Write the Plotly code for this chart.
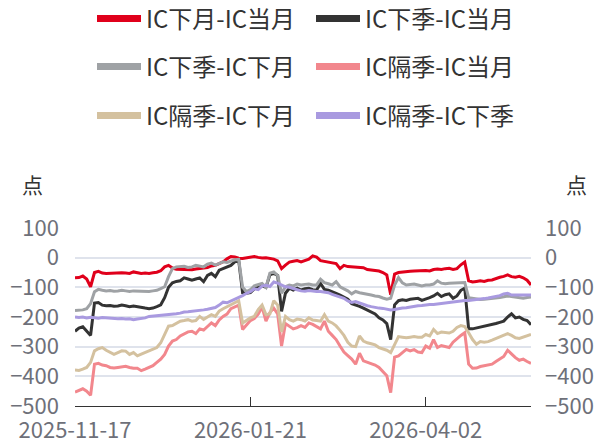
import plotly.graph_objects as go

# trading-day index labels
tick_idx = [0, 45, 90, 117]
tick_text = ["2025-11-17", "2026-01-21", "2026-04-02", ""]

names = ["IC下月-IC当月", "IC下季-IC当月", "IC下季-IC下月",
         "IC隔季-IC当月", "IC隔季-IC下月", "IC隔季-IC下季"]
colors = ["#e0001b", "#333333", "#9fa2a5", "#f2878d", "#d4c19f", "#a99ae0"]

s_xy_dy = [  # IC下月-IC当月
    -68, -67, -62, -72, -98, -50, -46, -52, -53, -52, -53, -52, -51, -52, -53, -48, -51, -53, -52, -53,
    -51, -49, -44, -31, -26, -35, -39, -40, -40, -42, -41, -38, -37, -36, -33, -28, -26, -20, -14, -4,
    4, 2, -2, -3, -1, 2, 4, 1, -1, 0, -3, -5, -11, -37, -25, -15, -12, -10, -14, -10,
    -5, 6, 2, -10, -13, -15, -17, -20, -37, -26, -30, -31, -30, -33, -34, -40, -42, -43, -45, -50,
    -58, -125, -55, -50, -48, -47, -46, -45, -44, -42, -43, -45, -40, -38, -40, -37, -36, -40, -37, -24,
    -15, -78, -82, -80, -78, -80, -76, -75, -70, -66, -63, -58, -64, -66, -63, -68, -76, -92]

s_xj_dy = [  # IC下季-IC当月
    -248, -237, -233, -248, -262, -153, -151, -160, -162, -161, -164, -163, -160, -162, -165, -163, -166, -168, -170, -172,
    -170, -165, -159, -135, -100, -85, -80, -78, -68, -72, -76, -72, -68, -81, -60, -53, -64, -42, -37, -30,
    -26, -14, -9, -118, -120, -118, -105, -100, -95, -100, -58, -53, -60, -181, -120, -103, -109, -103, -109, -105,
    -103, -108, -109, -87, -107, -110, -114, -120, -126, -133, -140, -155, -159, -164, -170, -176, -183, -190, -203, -210,
    -222, -276, -159, -145, -142, -144, -140, -138, -137, -144, -140, -135, -129, -120, -131, -125, -122, -137, -129, -110,
    -103, -240, -240, -237, -235, -233, -230, -226, -222, -218, -214, -200, -189, -203, -200, -208, -212, -226]

s_xj_xy = [  # IC下季-IC下月
    -178, -178, -176, -172, -155, -115, -107, -110, -112, -111, -113, -112, -110, -112, -114, -112, -113, -114, -113, -114,
    -112, -110, -104, -98, -64, -37, -31, -30, -29, -33, -31, -26, -28, -31, -22, -18, -25, -20, -14, -16,
    -12, -7, -6, -100, -114, -108, -95, -90, -87, -100, -52, -48, -60, -120, -98, -92, -95, -89, -92, -90,
    -89, -92, -92, -73, -84, -88, -92, -81, -98, -105, -112, -122, -114, -118, -120, -124, -126, -129, -131, -136,
    -140, -137, -92, -67, -85, -92, -90, -89, -92, -95, -92, -92, -89, -78, -86, -88, -86, -86, -85, -84,
    -84, -135, -137, -138, -141, -140, -139, -138, -136, -134, -132, -129, -131, -133, -135, -137, -134, -133]

s_gj_dy = [  # IC隔季-IC当月
    -453, -448, -442, -450, -464, -359, -356, -362, -364, -370, -372, -370, -367, -366, -370, -373, -373, -381, -376, -370,
    -364, -353, -342, -326, -298, -281, -276, -264, -258, -250, -248, -256, -240, -244, -232, -220, -229, -210, -198, -190,
    -172, -165, -160, -242, -226, -212, -205, -190, -166, -214, -185, -170, -190, -298, -222, -231, -240, -236, -229, -235,
    -220, -225, -232, -240, -214, -248, -262, -276, -298, -318, -330, -342, -359, -322, -348, -352, -356, -362, -370, -385,
    -398, -455, -335, -331, -320, -309, -314, -310, -318, -320, -298, -305, -276, -303, -296, -300, -303, -285, -272, -262,
    -253, -359, -373, -372, -367, -365, -362, -359, -350, -342, -333, -312, -325, -337, -346, -342, -350, -356]

s_gj_xy = [  # IC隔季-IC下月
    -379, -380, -376, -370, -353, -314, -307, -303, -312, -320, -326, -320, -314, -315, -326, -320, -331, -325, -320, -314,
    -309, -303, -287, -259, -231, -229, -220, -214, -212, -209, -214, -212, -198, -208, -200, -192, -198, -180, -172, -165,
    -159, -150, -145, -220, -210, -203, -198, -175, -160, -192, -190, -145, -160, -250, -198, -209, -214, -207, -209, -214,
    -203, -210, -212, -214, -192, -214, -220, -230, -245, -262, -285, -298, -300, -264, -281, -287, -290, -294, -303, -308,
    -312, -320, -290, -266, -268, -270, -268, -266, -268, -268, -259, -264, -242, -256, -251, -252, -254, -248, -235, -229,
    -232, -253, -276, -292, -283, -285, -283, -278, -272, -266, -262, -256, -262, -270, -272, -268, -262, -259]

s_gj_xj = [  # IC隔季-IC下季
    -200, -202, -200, -203, -201, -203, -204, -202, -203, -205, -204, -206, -205, -207, -206, -209, -207, -205, -203, -198,
    -197, -195, -194, -192, -191, -190, -189, -187, -183, -182, -181, -180, -178, -176, -174, -170, -168, -160, -150, -152,
    -146, -142, -134, -128, -120, -115, -105, -108, -96, -93, -97, -82, -86, -92, -98, -100, -103, -108, -112, -113,
    -111, -113, -114, -114, -116, -118, -124, -128, -132, -137, -146, -151, -148, -153, -158, -162, -165, -168, -170, -171,
    -173, -176, -175, -172, -170, -169, -166, -164, -162, -161, -159, -158, -158, -156, -155, -153, -151, -148, -147, -146,
    -144, -144, -143, -142, -140, -138, -136, -133, -131, -128, -122, -120, -126, -126, -127, -126, -126, -126]

series = [s_xy_dy, s_xj_dy, s_xj_xy, s_gj_dy, s_gj_xy, s_gj_xj]

FONT = "Noto Sans CJK SC"
AXIS_TXT = "#6e7079"
GRID = "#dfe3ec"

# page body has an 8px margin, so the figure is 8px smaller than the window
W, H = 595, 439

fig = go.Figure()

for name, ys, color in zip(names, series, colors):
    fig.add_trace(go.Scatter(
        x=list(range(len(ys))), y=ys, name=name, mode="lines",
        line=dict(color=color, width=3), showlegend=False,
    ))

# one small legend per entry: 2 columns x 3 rows above the plot
legend_x = [84, 303]
legend_y = [11, 59, 108]
legends = {}
for k, (name, color) in enumerate(zip(names, colors)):
    lg = "legend" if k == 0 else f"legend{k + 1}"
    fig.add_trace(go.Scatter(
        x=[None], y=[None], name=name, mode="lines", yaxis="y2",
        line=dict(color=color, width=7), legend=lg,
    ))
    legends[lg] = dict(
        orientation="h", xref="container", yref="container",
        x=legend_x[k % 2] / W, y=1 - legend_y[k // 2] / H,
        xanchor="left", yanchor="middle", itemwidth=44,
        font=dict(family=FONT, size=24, color="#333333"),
        bgcolor="rgba(0,0,0,0)",
    )

fig.update_layout(
    width=W, height=H,
    paper_bgcolor="white", plot_bgcolor="white",
    margin=dict(l=67, r=72, t=220, b=41, autoexpand=False),
    font=dict(family=FONT, size=22, color=AXIS_TXT),
    xaxis=dict(
        range=[0, 117], tickmode="array", tickvals=tick_idx, ticktext=tick_text,
        showgrid=False, zeroline=False, showline=True, linecolor="#333333", linewidth=1,
        ticks="inside", ticklen=9, tickcolor="#333333", ticklabelstandoff=5,
        tickfont=dict(family=FONT, size=22, color=AXIS_TXT),
    ),
    yaxis=dict(
        range=[-500, 100], dtick=100, showgrid=True, gridcolor=GRID, gridwidth=1.5,
        zeroline=False, showline=False, ticks="", ticklabelstandoff=15,
        tickfont=dict(family=FONT, size=22, color=AXIS_TXT),
    ),
    yaxis2=dict(
        range=[-500, 100], dtick=100, overlaying="y", side="right", showgrid=False,
        zeroline=False, showline=False, ticks="", ticklabelstandoff=13,
        tickfont=dict(family=FONT, size=22, color=AXIS_TXT),
    ),
    annotations=[
        dict(text="点", xref="paper", yref="paper", x=-0.094, y=1.25, showarrow=False,
             xanchor="center", yanchor="middle", font=dict(family=FONT, size=21, color="#333333")),
        dict(text="点", xref="paper", yref="paper", x=1.1, y=1.25, showarrow=False,
             xanchor="center", yanchor="middle", font=dict(family=FONT, size=21, color="#333333")),
    ],
    **legends,
)

fig.write_html("out.html")
